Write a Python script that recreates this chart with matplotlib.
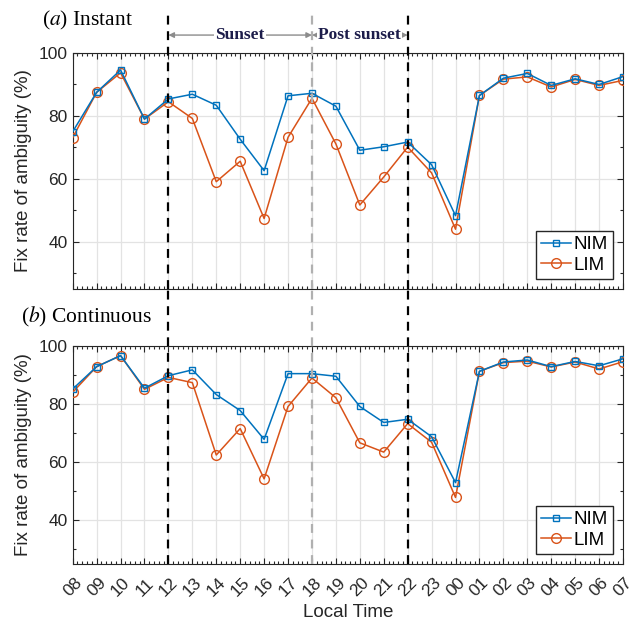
import matplotlib
matplotlib.use("Agg")
import matplotlib.pyplot as plt
from matplotlib.ticker import MultipleLocator, AutoMinorLocator
import numpy as np

hours = ['08', '09', '10', '11', '12', '13', '14', '15', '16', '17', '18', '19',
         '20', '21', '22', '23', '00', '01', '02', '03', '04', '05', '06', '07']

# (a) Instant
nim_inst = [75.0, 87.5, 94.6, 79.0, 85.4, 86.9, 83.4, 72.6, 62.6, 86.4, 87.2, 83.1,
            69.1, 70.2, 71.7, 64.5, 48.3, 86.5, 92.0, 93.5, 89.7, 91.8, 90.0, 92.5]
lim_inst = [73.1, 87.5, 93.7, 79.0, 84.5, 79.2, 59.1, 65.6, 47.4, 73.2, 85.6, 71.1,
            51.7, 60.6, 70.1, 61.9, 44.0, 86.5, 91.7, 92.4, 89.2, 91.6, 89.7, 91.3]

# (b) Continuous
nim_cont = [85.2, 92.9, 96.7, 85.5, 89.8, 91.8, 83.3, 77.8, 67.9, 90.5, 90.5, 89.6,
            79.2, 73.7, 74.8, 68.8, 53.0, 91.3, 94.5, 95.2, 92.9, 94.7, 93.2, 95.6]
lim_cont = [84.1, 92.9, 96.7, 85.1, 89.2, 87.4, 62.5, 71.6, 54.3, 79.2, 89.0, 82.2,
            66.7, 63.5, 73.3, 66.9, 47.9, 91.3, 94.3, 94.8, 92.8, 94.5, 92.1, 94.6]

# index of 12, 18 and 22 LT
sunset_start = 4
sunset_end = 10
post_end = 14

blue = '#0072BD'
orange = '#D95319'
axcol = '#262626'

plt.rcParams['font.family'] = ['Liberation Sans', 'DejaVu Sans']

fig = plt.figure(figsize=(6.3, 6.28), dpi=100)
ax1 = fig.add_axes([0.1154, 0.5398, 0.8735, 0.3758])
ax2 = fig.add_axes([0.1154, 0.1019, 0.8735, 0.3471])

x = np.arange(len(hours))

def setup(ax, nim, lim):
    ax.plot(x, nim, '-s', color=blue, lw=1.1, ms=4.2, mfc='none', mew=1.0, label='NIM', zorder=4)
    ax.plot(x, lim, '-o', color=orange, lw=1.1, ms=7, mfc='none', mew=1.0, label='LIM', zorder=3)
    ax.set_xlim(0, len(hours) - 1)
    ax.set_ylim(25, 100)
    ax.set_xticks(x)
    ax.yaxis.set_major_locator(MultipleLocator(20))
    ax.yaxis.set_minor_locator(MultipleLocator(10))
    ax.xaxis.set_minor_locator(AutoMinorLocator(5))
    ax.grid(True, which='major', color='#e3e3e3', lw=0.9)
    ax.set_axisbelow(True)
    ax.tick_params(which='both', direction='in', top=True, right=True, colors=axcol,
                   labelsize=12.5)
    ax.tick_params(which='major', length=4.5, width=0.8)
    ax.tick_params(which='minor', length=2.5, width=0.8)
    for s in ax.spines.values():
        s.set_color(axcol)
        s.set_linewidth(0.8)
    ax.set_ylabel('Fix rate of ambiguity (%)', fontsize=13.5, color=axcol, labelpad=5)
    leg = ax.legend(loc='lower right', fontsize=13.5, fancybox=False, framealpha=1,
                    edgecolor=axcol, handlelength=1.6, handletextpad=0.15,
                    borderpad=0.25, labelspacing=0.2, borderaxespad=0.55)
    leg.get_frame().set_linewidth(1.0)
    # boundary lines for sunset / post sunset
    ext = 1.17 if ax is ax1 else 1.27
    for xi, c in [(sunset_start, 'k'), (sunset_end, '#b0b0b0'), (post_end, 'k')]:
        ax.axvline(xi, ymin=0, ymax=ext, color=c, ls=(0, (4, 3)), lw=1.6,
                   clip_on=False, zorder=5)

setup(ax1, nim_inst, lim_inst)
setup(ax2, nim_cont, lim_cont)

ax1.set_xticklabels([])
ax2.set_xticklabels(hours, rotation=45, ha='center')
ax2.tick_params(axis='x', pad=8)
ax2.set_xlabel('Local Time', fontsize=13.5, color=axcol, labelpad=3)

# panel titles
fig.text(0.066, 0.968, r'($\mathit{a}$) Instant', fontsize=15.5, family='Liberation Serif',
         va='center', ha='left', math_fontfamily='stix')
fig.text(0.034, 0.495, r'($\mathit{b}$) Continuous', fontsize=15.5, family='Liberation Serif',
         va='center', ha='left', math_fontfamily='stix')

# period arrows
ya = 105.7
for x0, x1, txt in [(sunset_start, sunset_end, 'Sunset'), (sunset_end, post_end, 'Post sunset')]:
    ax1.annotate('', xy=(x0, ya), xytext=(x1, ya), annotation_clip=False,
                 arrowprops=dict(arrowstyle='<|-|>', color='#8c8c8c', lw=1.0,
                                 mutation_scale=8, shrinkA=0, shrinkB=0))
    ax1.text((x0 + x1) / 2, ya, txt, ha='center', va='center', fontsize=12.5,
             fontweight='bold', family='Liberation Serif', color='#1c1c4a',
             bbox=dict(facecolor='white', edgecolor='none', pad=0.8), clip_on=False)

fig.savefig('out.png', dpi=100)
